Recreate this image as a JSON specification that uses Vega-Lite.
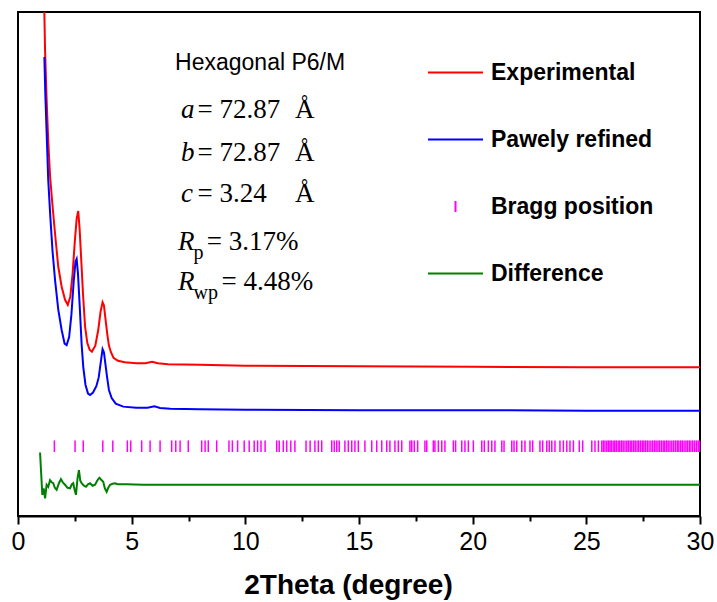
{
  "$schema": "https://vega.github.io/schema/vega-lite/v6.json",
  "width": 682,
  "height": 504,
  "autosize": {"type": "none"},
  "padding": {"left": 18, "top": 12, "right": 17, "bottom": 86},
  "background": "white",
  "config": {"view": {"stroke": "black", "strokeWidth": 2}, "font": "Liberation Sans"},
  "datasets": {
    "xrd": [
      {"series": "Experimental", "x": 1.10, "y": 112},
      {"series": "Experimental", "x": 1.16, "y": 99.8},
      {"series": "Experimental", "x": 1.19, "y": 92.5},
      {"series": "Experimental", "x": 1.26, "y": 82.5},
      {"series": "Experimental", "x": 1.33, "y": 74.5},
      {"series": "Experimental", "x": 1.41, "y": 67.5},
      {"series": "Experimental", "x": 1.51, "y": 62.0},
      {"series": "Experimental", "x": 1.62, "y": 56.5},
      {"series": "Experimental", "x": 1.77, "y": 49.5},
      {"series": "Experimental", "x": 1.92, "y": 45.5},
      {"series": "Experimental", "x": 2.07, "y": 42.9},
      {"series": "Experimental", "x": 2.19, "y": 41.9},
      {"series": "Experimental", "x": 2.30, "y": 43.5},
      {"series": "Experimental", "x": 2.40, "y": 48.0},
      {"series": "Experimental", "x": 2.50, "y": 54.5},
      {"series": "Experimental", "x": 2.58, "y": 59.0},
      {"series": "Experimental", "x": 2.65, "y": 60.5},
      {"series": "Experimental", "x": 2.71, "y": 57.0},
      {"series": "Experimental", "x": 2.78, "y": 51.0},
      {"series": "Experimental", "x": 2.86, "y": 44.0},
      {"series": "Experimental", "x": 2.95, "y": 37.6},
      {"series": "Experimental", "x": 3.05, "y": 34.3},
      {"series": "Experimental", "x": 3.15, "y": 33.0},
      {"series": "Experimental", "x": 3.25, "y": 32.6},
      {"series": "Experimental", "x": 3.40, "y": 33.8},
      {"series": "Experimental", "x": 3.53, "y": 36.9},
      {"series": "Experimental", "x": 3.63, "y": 40.5},
      {"series": "Experimental", "x": 3.72, "y": 42.4},
      {"series": "Experimental", "x": 3.78, "y": 41.8},
      {"series": "Experimental", "x": 3.85, "y": 39.0},
      {"series": "Experimental", "x": 3.93, "y": 36.0},
      {"series": "Experimental", "x": 4.00, "y": 33.8},
      {"series": "Experimental", "x": 4.08, "y": 32.6},
      {"series": "Experimental", "x": 4.20, "y": 31.4},
      {"series": "Experimental", "x": 4.40, "y": 30.8},
      {"series": "Experimental", "x": 4.70, "y": 30.5},
      {"series": "Experimental", "x": 5.20, "y": 30.3},
      {"series": "Experimental", "x": 5.60, "y": 30.3},
      {"series": "Experimental", "x": 5.90, "y": 30.6},
      {"series": "Experimental", "x": 6.15, "y": 30.3},
      {"series": "Experimental", "x": 6.60, "y": 30.1},
      {"series": "Experimental", "x": 8.00, "y": 30.0},
      {"series": "Experimental", "x": 10.0, "y": 29.8},
      {"series": "Experimental", "x": 15.0, "y": 29.7},
      {"series": "Experimental", "x": 20.0, "y": 29.6},
      {"series": "Experimental", "x": 25.0, "y": 29.5},
      {"series": "Experimental", "x": 30.0, "y": 29.5},
      {"series": "Pawely refined", "x": 1.16, "y": 91.1},
      {"series": "Pawely refined", "x": 1.20, "y": 84.0},
      {"series": "Pawely refined", "x": 1.26, "y": 76.0},
      {"series": "Pawely refined", "x": 1.33, "y": 66.7},
      {"series": "Pawely refined", "x": 1.42, "y": 59.5},
      {"series": "Pawely refined", "x": 1.52, "y": 52.5},
      {"series": "Pawely refined", "x": 1.63, "y": 46.8},
      {"series": "Pawely refined", "x": 1.77, "y": 41.0},
      {"series": "Pawely refined", "x": 1.92, "y": 36.9},
      {"series": "Pawely refined", "x": 2.05, "y": 34.2},
      {"series": "Pawely refined", "x": 2.14, "y": 33.9},
      {"series": "Pawely refined", "x": 2.25, "y": 35.5},
      {"series": "Pawely refined", "x": 2.35, "y": 40.0},
      {"series": "Pawely refined", "x": 2.45, "y": 46.5},
      {"series": "Pawely refined", "x": 2.53, "y": 50.5},
      {"series": "Pawely refined", "x": 2.58, "y": 51.0},
      {"series": "Pawely refined", "x": 2.64, "y": 48.0},
      {"series": "Pawely refined", "x": 2.73, "y": 40.3},
      {"series": "Pawely refined", "x": 2.80, "y": 34.0},
      {"series": "Pawely refined", "x": 2.87, "y": 29.6},
      {"series": "Pawely refined", "x": 2.97, "y": 26.0},
      {"series": "Pawely refined", "x": 3.08, "y": 24.3},
      {"series": "Pawely refined", "x": 3.17, "y": 24.0},
      {"series": "Pawely refined", "x": 3.30, "y": 24.5},
      {"series": "Pawely refined", "x": 3.45, "y": 25.8},
      {"series": "Pawely refined", "x": 3.55, "y": 27.5},
      {"series": "Pawely refined", "x": 3.64, "y": 30.5},
      {"series": "Pawely refined", "x": 3.72, "y": 33.1},
      {"series": "Pawely refined", "x": 3.78, "y": 32.5},
      {"series": "Pawely refined", "x": 3.85, "y": 30.0},
      {"series": "Pawely refined", "x": 3.92, "y": 27.5},
      {"series": "Pawely refined", "x": 4.00, "y": 25.0},
      {"series": "Pawely refined", "x": 4.12, "y": 23.4},
      {"series": "Pawely refined", "x": 4.30, "y": 22.3},
      {"series": "Pawely refined", "x": 4.63, "y": 21.7},
      {"series": "Pawely refined", "x": 5.20, "y": 21.5},
      {"series": "Pawely refined", "x": 5.70, "y": 21.5},
      {"series": "Pawely refined", "x": 6.00, "y": 21.75},
      {"series": "Pawely refined", "x": 6.25, "y": 21.45},
      {"series": "Pawely refined", "x": 6.70, "y": 21.3},
      {"series": "Pawely refined", "x": 8.0, "y": 21.2},
      {"series": "Pawely refined", "x": 10.0, "y": 21.1},
      {"series": "Pawely refined", "x": 15.0, "y": 21.0},
      {"series": "Pawely refined", "x": 20.0, "y": 21.0},
      {"series": "Pawely refined", "x": 25.0, "y": 20.9},
      {"series": "Pawely refined", "x": 30.0, "y": 20.9},
      {"series": "Difference", "x": 0.97, "y": 12.6},
      {"series": "Difference", "x": 1.07, "y": 4.2},
      {"series": "Difference", "x": 1.13, "y": 5.5},
      {"series": "Difference", "x": 1.19, "y": 3.5},
      {"series": "Difference", "x": 1.26, "y": 6.2},
      {"series": "Difference", "x": 1.33, "y": 5.8},
      {"series": "Difference", "x": 1.41, "y": 7.1},
      {"series": "Difference", "x": 1.48, "y": 6.7},
      {"series": "Difference", "x": 1.55, "y": 6.5},
      {"series": "Difference", "x": 1.62, "y": 5.6},
      {"series": "Difference", "x": 1.70, "y": 5.2},
      {"series": "Difference", "x": 1.80, "y": 6.5},
      {"series": "Difference", "x": 1.89, "y": 7.3},
      {"series": "Difference", "x": 1.98, "y": 6.6},
      {"series": "Difference", "x": 2.07, "y": 6.2},
      {"series": "Difference", "x": 2.18, "y": 5.6},
      {"series": "Difference", "x": 2.29, "y": 5.5},
      {"series": "Difference", "x": 2.37, "y": 6.3},
      {"series": "Difference", "x": 2.43, "y": 6.5},
      {"series": "Difference", "x": 2.50, "y": 5.0},
      {"series": "Difference", "x": 2.55, "y": 4.2},
      {"series": "Difference", "x": 2.62, "y": 7.5},
      {"series": "Difference", "x": 2.68, "y": 9.1},
      {"series": "Difference", "x": 2.74, "y": 7.0},
      {"series": "Difference", "x": 2.80, "y": 6.5},
      {"series": "Difference", "x": 2.90, "y": 6.0},
      {"series": "Difference", "x": 2.99, "y": 5.8},
      {"series": "Difference", "x": 3.08, "y": 6.3},
      {"series": "Difference", "x": 3.17, "y": 6.5},
      {"series": "Difference", "x": 3.28, "y": 6.0},
      {"series": "Difference", "x": 3.39, "y": 6.2},
      {"series": "Difference", "x": 3.48, "y": 7.0},
      {"series": "Difference", "x": 3.58, "y": 7.6},
      {"series": "Difference", "x": 3.66, "y": 7.2},
      {"series": "Difference", "x": 3.75, "y": 6.8},
      {"series": "Difference", "x": 3.82, "y": 5.5},
      {"series": "Difference", "x": 3.90, "y": 4.8},
      {"series": "Difference", "x": 3.97, "y": 5.6},
      {"series": "Difference", "x": 4.05, "y": 6.2},
      {"series": "Difference", "x": 4.16, "y": 6.4},
      {"series": "Difference", "x": 4.27, "y": 6.5},
      {"series": "Difference", "x": 4.38, "y": 6.3},
      {"series": "Difference", "x": 4.49, "y": 6.3},
      {"series": "Difference", "x": 4.78, "y": 6.3},
      {"series": "Difference", "x": 5.5, "y": 6.2},
      {"series": "Difference", "x": 10.0, "y": 6.2},
      {"series": "Difference", "x": 15.0, "y": 6.2},
      {"series": "Difference", "x": 20.0, "y": 6.2},
      {"series": "Difference", "x": 25.0, "y": 6.2},
      {"series": "Difference", "x": 30.0, "y": 6.2}
    ],
    "bragg": [
      {"series": "Bragg position", "x": 1.60}, {"series": "Bragg position", "x": 2.51}, {"series": "Bragg position", "x": 2.87},
      {"series": "Bragg position", "x": 3.73}, {"series": "Bragg position", "x": 4.17}, {"series": "Bragg position", "x": 4.81},
      {"series": "Bragg position", "x": 4.96}, {"series": "Bragg position", "x": 5.44}, {"series": "Bragg position", "x": 5.81},
      {"series": "Bragg position", "x": 6.25}, {"series": "Bragg position", "x": 6.76}, {"series": "Bragg position", "x": 6.94},
      {"series": "Bragg position", "x": 7.13}, {"series": "Bragg position", "x": 7.49}, {"series": "Bragg position", "x": 8.08},
      {"series": "Bragg position", "x": 8.23}, {"series": "Bragg position", "x": 8.37}, {"series": "Bragg position", "x": 8.74},
      {"series": "Bragg position", "x": 9.28}, {"series": "Bragg position", "x": 9.43}, {"series": "Bragg position", "x": 9.66},
      {"series": "Bragg position", "x": 9.95}, {"series": "Bragg position", "x": 10.17}, {"series": "Bragg position", "x": 10.39},
      {"series": "Bragg position", "x": 10.54}, {"series": "Bragg position", "x": 10.69}, {"series": "Bragg position", "x": 10.87},
      {"series": "Bragg position", "x": 11.38}, {"series": "Bragg position", "x": 11.49}, {"series": "Bragg position", "x": 11.67},
      {"series": "Bragg position", "x": 11.82}, {"series": "Bragg position", "x": 12.00}, {"series": "Bragg position", "x": 12.18},
      {"series": "Bragg position", "x": 12.67}, {"series": "Bragg position", "x": 12.85}, {"series": "Bragg position", "x": 13.06},
      {"series": "Bragg position", "x": 13.21}, {"series": "Bragg position", "x": 13.36}, {"series": "Bragg position", "x": 13.80},
      {"series": "Bragg position", "x": 13.91}, {"series": "Bragg position", "x": 14.02}, {"series": "Bragg position", "x": 14.13},
      {"series": "Bragg position", "x": 14.38}, {"series": "Bragg position", "x": 14.53}, {"series": "Bragg position", "x": 14.68},
      {"series": "Bragg position", "x": 14.82}, {"series": "Bragg position", "x": 14.97}, {"series": "Bragg position", "x": 15.26},
      {"series": "Bragg position", "x": 15.56}, {"series": "Bragg position", "x": 15.78}, {"series": "Bragg position", "x": 16.00},
      {"series": "Bragg position", "x": 16.22}, {"series": "Bragg position", "x": 16.36}, {"series": "Bragg position", "x": 16.58},
      {"series": "Bragg position", "x": 16.73}, {"series": "Bragg position", "x": 16.88}, {"series": "Bragg position", "x": 17.24},
      {"series": "Bragg position", "x": 17.32}, {"series": "Bragg position", "x": 17.43}, {"series": "Bragg position", "x": 17.58},
      {"series": "Bragg position", "x": 17.90}, {"series": "Bragg position", "x": 17.98}, {"series": "Bragg position", "x": 18.27},
      {"series": "Bragg position", "x": 18.34}, {"series": "Bragg position", "x": 18.49}, {"series": "Bragg position", "x": 18.64},
      {"series": "Bragg position", "x": 18.78}, {"series": "Bragg position", "x": 19.15}, {"series": "Bragg position", "x": 19.25},
      {"series": "Bragg position", "x": 19.52}, {"series": "Bragg position", "x": 19.66}, {"series": "Bragg position", "x": 19.81},
      {"series": "Bragg position", "x": 20.03}, {"series": "Bragg position", "x": 20.40}, {"series": "Bragg position", "x": 20.51},
      {"series": "Bragg position", "x": 20.69}, {"series": "Bragg position", "x": 20.84}, {"series": "Bragg position", "x": 20.98},
      {"series": "Bragg position", "x": 21.28}, {"series": "Bragg position", "x": 21.38}, {"series": "Bragg position", "x": 21.72},
      {"series": "Bragg position", "x": 21.82}, {"series": "Bragg position", "x": 21.94}, {"series": "Bragg position", "x": 22.16},
      {"series": "Bragg position", "x": 22.30}, {"series": "Bragg position", "x": 22.52}, {"series": "Bragg position", "x": 22.64},
      {"series": "Bragg position", "x": 22.96}, {"series": "Bragg position", "x": 23.08}, {"series": "Bragg position", "x": 23.26},
      {"series": "Bragg position", "x": 23.37}, {"series": "Bragg position", "x": 23.48}, {"series": "Bragg position", "x": 23.62},
      {"series": "Bragg position", "x": 23.84}, {"series": "Bragg position", "x": 23.99}, {"series": "Bragg position", "x": 24.14},
      {"series": "Bragg position", "x": 24.28}, {"series": "Bragg position", "x": 24.43}, {"series": "Bragg position", "x": 24.69},
      {"series": "Bragg position", "x": 24.84}, {"series": "Bragg position", "x": 25.24}, {"series": "Bragg position", "x": 25.38},
      {"series": "Bragg position", "x": 25.53}, {"series": "Bragg position", "x": 25.68}, {"series": "Bragg position", "x": 25.75},
      {"series": "Bragg position", "x": 25.82}, {"series": "Bragg position", "x": 25.90}, {"series": "Bragg position", "x": 25.97},
      {"series": "Bragg position", "x": 26.04}, {"series": "Bragg position", "x": 26.10}, {"series": "Bragg position", "x": 26.18},
      {"series": "Bragg position", "x": 26.25}, {"series": "Bragg position", "x": 26.32}, {"series": "Bragg position", "x": 26.40},
      {"series": "Bragg position", "x": 26.47}, {"series": "Bragg position", "x": 26.55}, {"series": "Bragg position", "x": 26.62},
      {"series": "Bragg position", "x": 26.70}, {"series": "Bragg position", "x": 26.78}, {"series": "Bragg position", "x": 26.85},
      {"series": "Bragg position", "x": 26.93}, {"series": "Bragg position", "x": 27.00}, {"series": "Bragg position", "x": 27.08},
      {"series": "Bragg position", "x": 27.15}, {"series": "Bragg position", "x": 27.23}, {"series": "Bragg position", "x": 27.30},
      {"series": "Bragg position", "x": 27.38}, {"series": "Bragg position", "x": 27.46}, {"series": "Bragg position", "x": 27.53},
      {"series": "Bragg position", "x": 27.60}, {"series": "Bragg position", "x": 27.68}, {"series": "Bragg position", "x": 27.76},
      {"series": "Bragg position", "x": 27.84}, {"series": "Bragg position", "x": 27.92}, {"series": "Bragg position", "x": 28.00},
      {"series": "Bragg position", "x": 28.07}, {"series": "Bragg position", "x": 28.15}, {"series": "Bragg position", "x": 28.22},
      {"series": "Bragg position", "x": 28.30}, {"series": "Bragg position", "x": 28.38}, {"series": "Bragg position", "x": 28.45},
      {"series": "Bragg position", "x": 28.53}, {"series": "Bragg position", "x": 28.60}, {"series": "Bragg position", "x": 28.68},
      {"series": "Bragg position", "x": 28.76}, {"series": "Bragg position", "x": 28.84}, {"series": "Bragg position", "x": 28.92},
      {"series": "Bragg position", "x": 29.00}, {"series": "Bragg position", "x": 29.07}, {"series": "Bragg position", "x": 29.15},
      {"series": "Bragg position", "x": 29.22}, {"series": "Bragg position", "x": 29.30}, {"series": "Bragg position", "x": 29.38},
      {"series": "Bragg position", "x": 29.45}, {"series": "Bragg position", "x": 29.53}, {"series": "Bragg position", "x": 29.60},
      {"series": "Bragg position", "x": 29.68}, {"series": "Bragg position", "x": 29.76}, {"series": "Bragg position", "x": 29.84},
      {"series": "Bragg position", "x": 29.92}, {"series": "Bragg position", "x": 29.98}
    ]
  },
  "layer": [
    {
      "data": {"name": "xrd"},
      "transform": [{"filter": "datum.series === 'Experimental'"}],
      "mark": {"type": "line", "clip": true, "strokeWidth": 2},
      "encoding": {
        "x": {"field": "x", "type": "quantitative", "scale": {"domain": [0, 30], "nice": false},
          "axis": {"orient": "bottom", "values": [0, 5, 10, 15, 20, 25, 30], "title": "2Theta (degree)", "grid": false,
            "domainColor": "black", "domainWidth": 2, "tickColor": "black", "tickWidth": 2, "tickSize": 8,
            "labelFont": "Liberation Sans", "labelFontSize": 25, "labelColor": "black", "labelPadding": 5, "labelFlush": false,
            "titleFont": "Liberation Sans", "titleFontSize": 28, "titleFontWeight": "bold", "titleColor": "black", "titlePadding": 17,
            "titleX": 330, "titleAlign": "center"}},
        "y": {"field": "y", "type": "quantitative", "scale": {"domain": [0, 100], "nice": false}, "axis": null},
        "color": {"field": "series", "type": "nominal",
          "scale": {"domain": ["Experimental", "Pawely refined", "Bragg position", "Difference"], "range": ["#ff0000", "#0000ff", "#ff00ff", "#008000"]},
          "legend": {"orient": "none", "legendX": 409, "legendY": 32, "title": null, "symbolType": "stroke", "symbolSize": 3025,
            "symbolStrokeWidth": 2, "labelFont": "Liberation Sans", "labelFontWeight": "bold", "labelFontSize": 23, "labelColor": "black",
            "labelOffset": 7, "rowPadding": 26, "labelLimit": 300,
            "encode": {"symbols": {"update": {"shape": {"signal": "datum.value === 'Bragg position' ? 'M0,-0.2L0,0.2' : 'stroke'"}}}}}}
      }
    },
    {
      "data": {"name": "xrd"},
      "transform": [{"filter": "datum.series === 'Pawely refined'"}],
      "mark": {"type": "line", "clip": true, "strokeWidth": 2},
      "encoding": {
        "x": {"field": "x", "type": "quantitative", "axis": null},
        "y": {"field": "y", "type": "quantitative"},
        "color": {"field": "series", "type": "nominal"}
      }
    },
    {
      "data": {"name": "bragg"},
      "mark": {"type": "rule", "strokeWidth": 1.5},
      "encoding": {
        "x": {"field": "x", "type": "quantitative", "axis": null},
        "y": {"datum": 15.0},
        "y2": {"datum": 12.7},
        "color": {"field": "series", "type": "nominal"}
      }
    },
    {
      "data": {"name": "xrd"},
      "transform": [{"filter": "datum.series === 'Difference'"}],
      "mark": {"type": "line", "clip": true, "strokeWidth": 2},
      "encoding": {
        "x": {"field": "x", "type": "quantitative",
          "axis": {"orient": "bottom", "values": [2.5, 7.5, 12.5, 17.5, 22.5, 27.5], "labels": false, "domain": false, "grid": false,
            "tickColor": "black", "tickWidth": 2, "tickSize": 5, "title": null}},
        "y": {"field": "y", "type": "quantitative"},
        "color": {"field": "series", "type": "nominal"}
      }
    },
    {
      "data": {"values": [{"x": 6.91, "y": 88.5, "t": "Hexagonal P6/M"}]},
      "mark": {"type": "text", "align": "left", "baseline": "alphabetic", "font": "Liberation Sans", "fontSize": 23, "color": "black"},
      "encoding": {
        "x": {"field": "x", "type": "quantitative", "axis": null},
        "y": {"field": "y", "type": "quantitative"},
        "text": {"field": "t"}
      }
    },
    {
      "data": {"values": [
        {"x": 7.17, "y": 79.0, "t": "a"},
        {"x": 7.17, "y": 70.4, "t": "b"},
        {"x": 7.17, "y": 62.3, "t": "c"},
        {"x": 7.04, "y": 52.8, "t": "R"},
        {"x": 7.04, "y": 44.8, "t": "R"}
      ]},
      "mark": {"type": "text", "align": "left", "baseline": "alphabetic", "font": "Liberation Serif", "fontStyle": "italic", "fontSize": 27, "color": "black"},
      "encoding": {
        "x": {"field": "x", "type": "quantitative", "axis": null},
        "y": {"field": "y", "type": "quantitative"},
        "text": {"field": "t"}
      }
    },
    {
      "data": {"values": [
        {"x": 7.90, "y": 79.0, "t": "= 72.87"},
        {"x": 7.90, "y": 70.4, "t": "= 72.87"},
        {"x": 7.90, "y": 62.3, "t": "= 3.24"},
        {"x": 8.30, "y": 52.8, "t": "= 3.17%"},
        {"x": 8.95, "y": 44.8, "t": "= 4.48%"},
        {"x": 12.19, "y": 79.0, "t": "Å"},
        {"x": 12.19, "y": 70.4, "t": "Å"},
        {"x": 12.19, "y": 62.3, "t": "Å"}
      ]},
      "mark": {"type": "text", "align": "left", "baseline": "alphabetic", "font": "Liberation Serif", "fontSize": 27, "color": "black"},
      "encoding": {
        "x": {"field": "x", "type": "quantitative", "axis": null},
        "y": {"field": "y", "type": "quantitative"},
        "text": {"field": "t"}
      }
    },
    {
      "data": {"values": [
        {"x": 7.72, "y": 51.0, "t": "p"},
        {"x": 7.72, "y": 43.0, "t": "wp"}
      ]},
      "mark": {"type": "text", "align": "left", "baseline": "alphabetic", "font": "Liberation Serif", "fontSize": 20, "color": "black"},
      "encoding": {
        "x": {"field": "x", "type": "quantitative", "axis": null},
        "y": {"field": "y", "type": "quantitative"},
        "text": {"field": "t"}
      }
    }
  ],
  "resolve": {"axis": {"x": "independent"}}
}
